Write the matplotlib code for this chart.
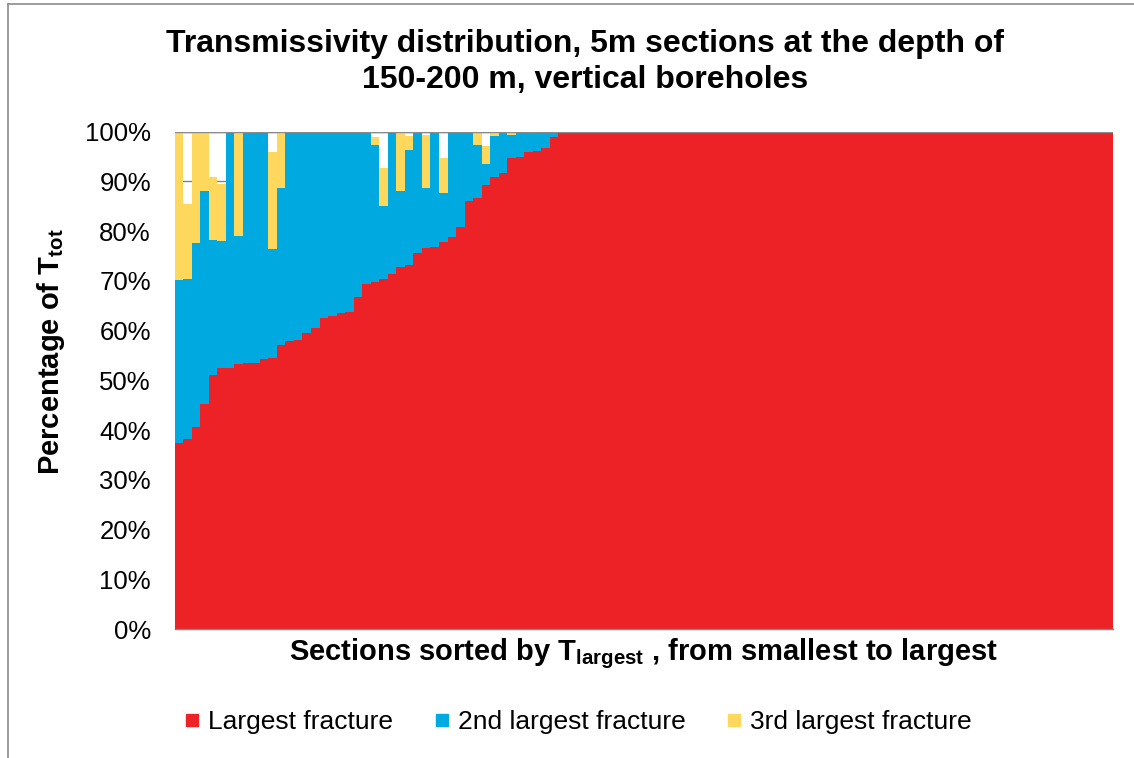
import matplotlib
matplotlib.use("Agg")
import matplotlib.pyplot as plt
from matplotlib.lines import Line2D
import numpy as np

plt.rcParams['font.family'] = ['Liberation Sans', 'DejaVu Sans']
plt.rcParams['mathtext.fontset'] = 'custom'
plt.rcParams['mathtext.rm'] = 'Liberation Sans'
plt.rcParams['mathtext.bf'] = 'Liberation Sans:bold'
plt.rcParams['mathtext.it'] = 'Liberation Sans:italic'

# Share of total transmissivity (%) per 5 m section, sorted by the largest fracture
largest = [37.5, 38.2, 40.6, 45.3, 51.0, 52.4, 52.5, 53.2, 53.4, 53.5,
           54.2, 54.6, 57.1, 58.0, 58.2, 59.5, 60.6, 62.6, 62.9, 63.5,
           63.8, 66.8, 69.3, 69.8, 70.4, 71.4, 72.8, 73.2, 75.5, 76.6,
           76.7, 77.8, 78.8, 80.9, 86.1, 86.7, 89.3, 90.9, 91.7, 94.6,
           94.9, 95.9, 96.1, 96.7, 98.8] + [100.0] * 65
second = [32.7, 32.2, 37.1, 42.7, 27.2, 25.6, 47.5, 25.8, 46.6, 46.5,
          45.8, 21.7, 31.5, 42.0, 41.8, 40.5, 39.4, 37.4, 37.1, 36.5,
          36.2, 33.2, 30.7, 27.5, 14.7, 28.6, 15.3, 23.0, 24.5, 12.0,
          23.3, 9.9, 21.2, 19.1, 13.9, 10.6, 4.2, 8.1, 8.3, 4.6,
          5.1, 4.1, 3.9, 3.3, 1.2] + [0.0] * 65
third = [29.8, 15.0, 22.3, 12.0, 12.7, 11.5, 0.0, 21.0, 0.0, 0.0,
         0.0, 19.5, 11.4, 0.0, 0.0, 0.0, 0.0, 0.0, 0.0, 0.0,
         0.0, 0.0, 0.0, 1.6, 7.5, 0.0, 11.9, 2.8, 0.0, 10.7,
         0.0, 6.9, 0.0, 0.0, 0.0, 2.7, 3.6, 1.0, 0.0, 0.6,
         0.0, 0.0, 0.0, 0.0, 0.0] + [0.0] * 65

series_names = ["Largest fracture", "2nd largest fracture", "3rd largest fracture"]
colors = ["#EC2227", "#00A9DF", "#FDD85D"]
ytick_values = list(range(0, 101, 10))
ytick_labels = [f"{v}%" for v in ytick_values]

W, H = 1134, 758
fig = plt.figure(figsize=(W / 100, H / 100), dpi=100)
ax = fig.add_axes([174.5 / W, 1 - 629.3 / H, (1113 - 174.5) / W, (629.3 - 131.5) / H])

x = np.arange(len(largest))
a = np.array(largest)
b = np.array(second)
c = np.array(third)
ax.bar(x, a, width=1.0, color=colors[0], linewidth=0, antialiased=False, zorder=2)
ax.bar(x, b, width=1.0, bottom=a, color=colors[1], linewidth=0, antialiased=False, zorder=2)
ax.bar(x, c, width=1.0, bottom=a + b, color=colors[2], linewidth=0, antialiased=False, zorder=2)
ax.axhline(100, color='#8a8a8a', linewidth=1.0, zorder=3)

ax.set_xlim(-0.5, len(largest) - 0.5)
ax.set_ylim(0, 100)
ax.set_yticks(ytick_values)
ax.set_yticklabels(ytick_labels, fontsize=18.5)
ax.set_xticks([])
ax.tick_params(axis='y', length=0, pad=17)
ax.yaxis.grid(True, color='#868686', linewidth=1.0, zorder=0)
ax.set_axisbelow(True)
for side in ('left', 'right', 'top'):
    ax.spines[side].set_visible(False)
ax.spines['bottom'].set_color('#868686')
ax.spines['bottom'].set_linewidth(1.0)
ax.spines['bottom'].set_zorder(3)

fig.text(585 / W, 1 - 62 / H,
         "Transmissivity distribution, 5m sections at the depth of\n150-200 m, vertical boreholes",
         ha='center', va='center', fontsize=23, fontweight='bold', linespacing=1.3)

fig.text(51 / W, 1 - 352 / H, r"Percentage of $\mathbf{T_{tot}}$",
         rotation=90, ha='center', va='center', fontsize=21, fontweight='bold')
fig.text(643 / W, 1 - 654 / H,
         r"Sections sorted by $\mathbf{T_{largest}}$ , from smallest to largest",
         ha='center', va='center', fontsize=21, fontweight='bold')

handles = [Line2D([], [], marker='s', linestyle='none', markersize=8,
                  markerfacecolor=col, markeredgecolor=col) for col in colors]
fig.legend(handles, series_names, loc='center', bbox_to_anchor=(578 / W, 1 - 722 / H),
           ncol=3, frameon=False, fontsize=19, handlelength=0.6, handletextpad=0.3,
           columnspacing=1.55)

# chart border (left and top edges)
fig.add_artist(Line2D([7.5 / W, 7.5 / W], [0, 1 - 3.5 / H], color='#8c8c8c', linewidth=1.2))
fig.add_artist(Line2D([7.5 / W, 1], [1 - 3.5 / H, 1 - 3.5 / H], color='#8c8c8c', linewidth=1.2))

fig.savefig("out.png", dpi=100)
